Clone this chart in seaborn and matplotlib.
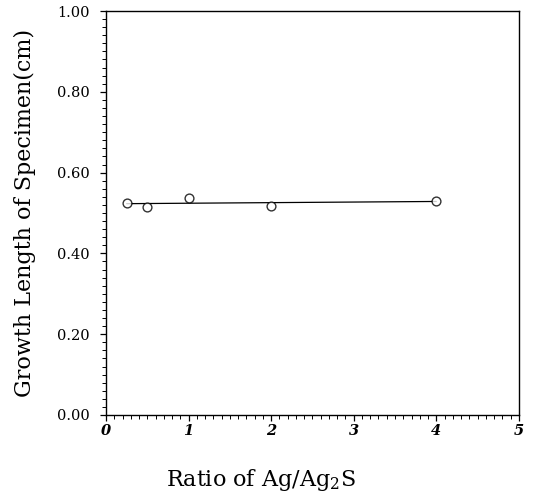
import numpy as np
import pandas as pd
import matplotlib
matplotlib.use('Agg')
import matplotlib.pyplot as plt
import seaborn as sns
from matplotlib.ticker import MultipleLocator, FormatStrFormatter

# Data
ratio = [0.25, 0.5, 1.0, 2.0, 4.0]
growth = [0.525, 0.514, 0.538, 0.518, 0.530]

df = pd.DataFrame({'ratio': ratio, 'growth': growth})

sns.set_style('ticks')
plt.rcParams['font.family'] = ['DejaVu Serif']
plt.rcParams['mathtext.fontset'] = 'dejavuserif'

fig = plt.figure(figsize=(5.36, 5.01), dpi=100)
ax = fig.add_axes([0.1978, 0.1717, 0.7702, 0.8063])

# open circles plus least-squares line
sns.regplot(data=df, x='ratio', y='growth', ax=ax, ci=None, truncate=True,
            marker='o',
            scatter_kws=dict(s=40, facecolors='white', edgecolors='black', linewidths=1.0, zorder=3),
            line_kws=dict(color='black', linewidth=0.9))

ax.set_xlim(0, 5)
ax.set_ylim(0, 1)
ax.xaxis.set_major_locator(MultipleLocator(1))
ax.xaxis.set_minor_locator(MultipleLocator(0.1))
ax.yaxis.set_major_locator(MultipleLocator(0.2))
ax.yaxis.set_minor_locator(MultipleLocator(0.02))
ax.yaxis.set_major_formatter(FormatStrFormatter('%.2f'))
ax.xaxis.set_major_formatter(FormatStrFormatter('%d'))

for s in ax.spines.values():
    s.set_visible(True)
    s.set_color('black')
    s.set_linewidth(1.0)

ax.tick_params(axis='both', which='major', direction='out', length=4.5, width=0.9,
               colors='black', labelsize=10.5)
ax.tick_params(axis='both', which='minor', direction='out', length=3, width=0.7, colors='black')
ax.tick_params(axis='x', pad=2)
ax.tick_params(axis='y', pad=7)
for lab in ax.get_xticklabels():
    lab.set_fontstyle('italic')
    lab.set_fontweight('bold')

ax.set_xlabel('Ratio of Ag/Ag$_2$S', fontsize=16, color='black')
ax.set_ylabel('Growth Length of Specimen(cm)', fontsize=16, color='black')
ax.xaxis.label.set_va('center')
ax.yaxis.label.set_va('center')
ax.xaxis.set_label_coords(0.376, -0.161)
ax.yaxis.set_label_coords(-0.197, 0.5)

fig.savefig('out.png', dpi=100, facecolor='white')
